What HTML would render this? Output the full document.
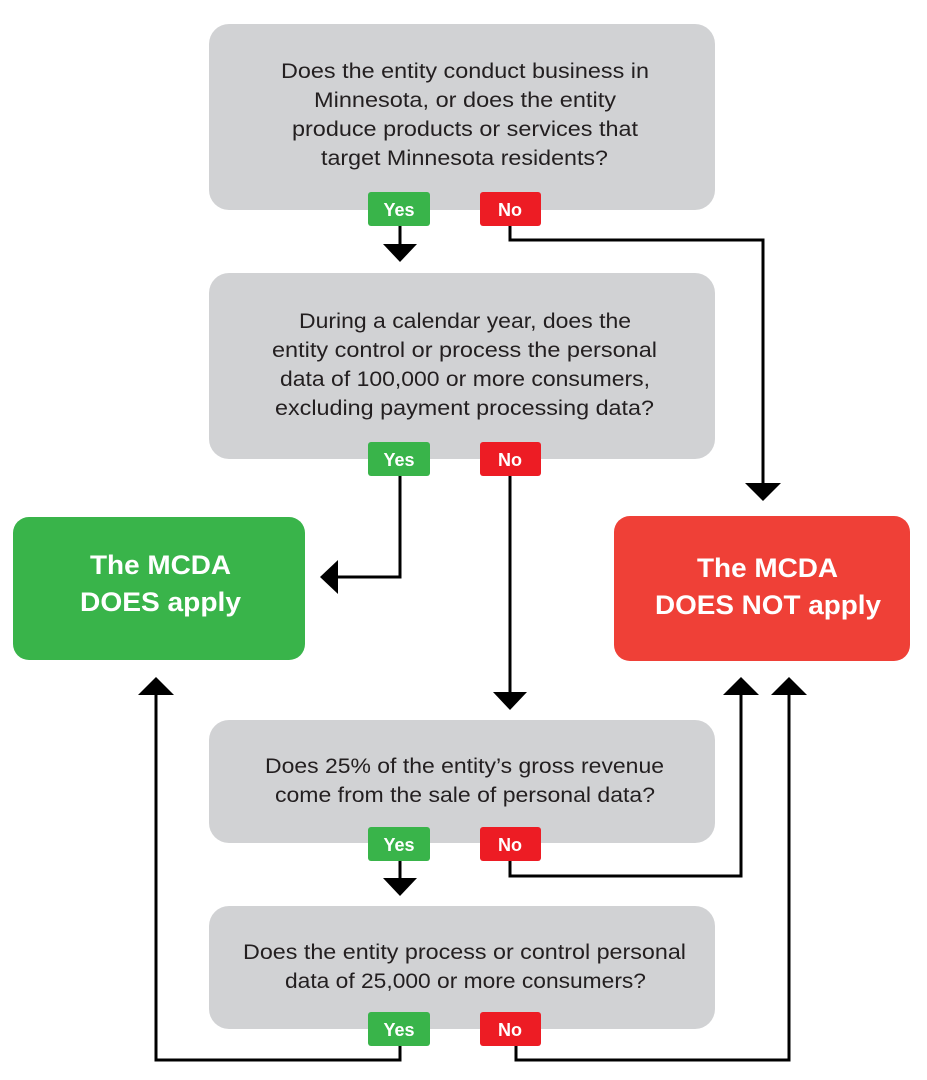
<!DOCTYPE html>
<html><head><meta charset="utf-8"><style>
html,body{margin:0;padding:0;background:#fff;}
svg{display:block}
text{font-family:"Liberation Sans",sans-serif;}
.q{font-size:21px;fill:#231f20;}
.b{font-size:18px;font-weight:bold;fill:#fff;text-anchor:middle}
.big{font-size:27px;font-weight:bold;fill:#fff;}
.ln{fill:none;stroke:#000;stroke-width:3}
</style></head><body>
<svg width="927" height="1080" viewBox="0 0 927 1080">
<rect x="209" y="24" width="506" height="186" rx="20" fill="#d1d2d4"/>
<rect x="209" y="273" width="506" height="186" rx="20" fill="#d1d2d4"/>
<rect x="209" y="720" width="506" height="123" rx="20" fill="#d1d2d4"/>
<rect x="209" y="906" width="506" height="123" rx="20" fill="#d1d2d4"/>
<rect x="13" y="517" width="292" height="143" rx="16" fill="#39b44a"/>
<rect x="614" y="516" width="296" height="145" rx="16" fill="#ef4037"/>

<text class="q" x="281" y="78" textLength="368" lengthAdjust="spacingAndGlyphs">Does the entity conduct business in</text>
<text class="q" x="314" y="107" textLength="302" lengthAdjust="spacingAndGlyphs">Minnesota, or does the entity</text>
<text class="q" x="292" y="136" textLength="346" lengthAdjust="spacingAndGlyphs">produce products or services that</text>
<text class="q" x="321" y="165" textLength="287" lengthAdjust="spacingAndGlyphs">target Minnesota residents?</text>

<text class="q" x="299" y="328" textLength="332" lengthAdjust="spacingAndGlyphs">During a calendar year, does the</text>
<text class="q" x="272" y="357" textLength="385" lengthAdjust="spacingAndGlyphs">entity control or process the personal</text>
<text class="q" x="280" y="386" textLength="370" lengthAdjust="spacingAndGlyphs">data of 100,000 or more consumers,</text>
<text class="q" x="275" y="415" textLength="379" lengthAdjust="spacingAndGlyphs">excluding payment processing data?</text>

<text class="q" x="265" y="773" textLength="399" lengthAdjust="spacingAndGlyphs">Does 25% of the entity’s gross revenue</text>
<text class="q" x="275" y="802" textLength="380" lengthAdjust="spacingAndGlyphs">come from the sale of personal data?</text>

<text class="q" x="243" y="959" textLength="443" lengthAdjust="spacingAndGlyphs">Does the entity process or control personal</text>
<text class="q" x="285" y="988" textLength="361" lengthAdjust="spacingAndGlyphs">data of 25,000 or more consumers?</text>

<text class="big" x="90" y="574" textLength="141" lengthAdjust="spacingAndGlyphs">The MCDA</text>
<text class="big" x="80" y="611" textLength="161" lengthAdjust="spacingAndGlyphs">DOES apply</text>
<text class="big" x="697" y="577" textLength="141" lengthAdjust="spacingAndGlyphs">The MCDA</text>
<text class="big" x="655" y="614" textLength="226" lengthAdjust="spacingAndGlyphs">DOES NOT apply</text>

<polyline class="ln" points="400,226 400,246"/>
<polygon points="383,244 417,244 400,262"/>
<polyline class="ln" points="510,226 510,240 763,240 763,485"/>
<polygon points="745,483 781,483 763,501"/>

<polyline class="ln" points="400,476 400,577 336,577"/>
<polygon points="338,560 338,594 320,577"/>
<polyline class="ln" points="510,476 510,694"/>
<polygon points="493,692 527,692 510,710"/>

<polyline class="ln" points="400,861 400,880"/>
<polygon points="383,878 417,878 400,896"/>
<polyline class="ln" points="510,861 510,876 741,876 741,693"/>
<polygon points="723,695 759,695 741,677"/>

<polyline class="ln" points="400,1046 400,1060 156,1060 156,693"/>
<polygon points="138,695 174,695 156,677"/>
<polyline class="ln" points="516,1046 516,1060 789,1060 789,693"/>
<polygon points="771,695 807,695 789,677"/>

<rect x="368" y="192" width="62" height="34" rx="3" fill="#39b44a"/><text class="b" x="399" y="216">Yes</text>
<rect x="480" y="192" width="61" height="34" rx="3" fill="#ed1c24"/><text class="b" x="510" y="216">No</text>
<rect x="368" y="442" width="62" height="34" rx="3" fill="#39b44a"/><text class="b" x="399" y="466">Yes</text>
<rect x="480" y="442" width="61" height="34" rx="3" fill="#ed1c24"/><text class="b" x="510" y="466">No</text>
<rect x="368" y="827" width="62" height="34" rx="3" fill="#39b44a"/><text class="b" x="399" y="851">Yes</text>
<rect x="480" y="827" width="61" height="34" rx="3" fill="#ed1c24"/><text class="b" x="510" y="851">No</text>
<rect x="368" y="1012" width="62" height="34" rx="3" fill="#39b44a"/><text class="b" x="399" y="1036">Yes</text>
<rect x="480" y="1012" width="61" height="34" rx="3" fill="#ed1c24"/><text class="b" x="510" y="1036">No</text>
</svg>
</body></html>
